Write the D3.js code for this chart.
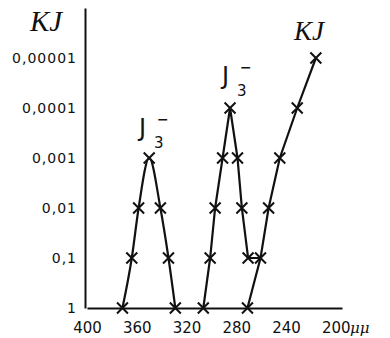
<!DOCTYPE html>
<html>
<head>
<meta charset="utf-8">
<script src="https://cdn.jsdelivr.net/npm/d3@7"></script>
<style>
  body { margin: 0; background: #fff; }
  svg { display: block; }
</style>
</head>
<body>
<div class="chart"></div>
<script>
// wavelength (μμ) and relative value for each band
const band1Wl = [371.5, 364, 358.5, 350, 341, 334.5, 329];
const band1Val = [1, 0.1, 0.01, 0.001, 0.01, 0.1, 1];
const band2Wl = [306.5, 301, 297, 291, 285, 279, 275.5, 270.5];
const band2Val = [1, 0.1, 0.01, 0.001, 0.0001, 0.001, 0.01, 0.1];
const kjWl = [271, 260.5, 254, 245, 231, 216];
const kjVal = [1, 0.1, 0.01, 0.001, 0.0001, 0.00001];

const xTicks = [400, 360, 320, 280, 240, 200];
const yTicks = [1, 0.1, 0.01, 0.001, 0.0001, 0.00001];
const yTickLabels = ['1', '0,1', '0,01', '0,001', '0,0001', '0,00001'];

const width = 390, height = 338;
const ink = '#111';

const svg = d3.select('.chart').append('svg')
  .attr('width', width)
  .attr('height', height)
  .style('background-color', 'white');

const xScale = d3.scaleLinear().domain([400, 195]).range([87, 342]);
const yScale = d3.scaleLog().domain([1, 1e-6]).range([308, 8]);

// x axis
const xAxis = svg.append('g')
  .attr('transform', 'translate(0,308)')
  .call(d3.axisBottom(xScale).tickValues(xTicks).tickSize(0).tickPadding(14)
    .tickFormat(d3.format('d')));
xAxis.select('.domain').attr('stroke', ink).attr('stroke-width', 2);
xAxis.selectAll('text')
  .attr('fill', ink)
  .style('font-family', '"DejaVu Sans", sans-serif')
  .style('font-size', '15px');

svg.append('text')
  .attr('x', 350).attr('y', 333)
  .attr('fill', ink)
  .style('font-family', '"DejaVu Serif", serif')
  .style('font-style', 'italic')
  .style('font-size', '15px')
  .text('μμ');

// y axis
const yAxis = svg.append('g')
  .attr('transform', 'translate(85,0)')
  .call(d3.axisLeft(yScale).tickValues(yTicks).tickSize(0).tickPadding(8)
    .tickFormat((d, i) => yTickLabels[i]));
yAxis.select('.domain').attr('stroke', ink).attr('stroke-width', 2);
yAxis.selectAll('text')
  .attr('fill', ink)
  .style('font-family', '"DejaVu Sans", sans-serif')
  .style('font-size', '14px')
  .style('letter-spacing', '1px');

svg.append('text')
  .attr('x', 30).attr('y', 31)
  .attr('fill', ink)
  .style('font-family', '"Liberation Serif", serif')
  .style('font-style', 'italic')
  .style('font-size', '29px')
  .text('KJ');

// curves
const toPts = (wl, val) => wl.map((w, i) => [xScale(w), yScale(val[i])]);
const pts1 = toPts(band1Wl, band1Val);
const pts2 = toPts(band2Wl, band2Val);
const pts3 = toPts(kjWl, kjVal);

const line = d3.line();
const smooth = d3.line().curve(d3.curveMonotoneX);

svg.append('path')
  .attr('d', smooth(pts1))
  .attr('fill', 'none').attr('stroke', ink).attr('stroke-width', 2.2);

// second band runs into the KJ curve at its 0,1 point
svg.append('path')
  .attr('d', line(pts2.concat([pts3[1]])))
  .attr('fill', 'none').attr('stroke', ink).attr('stroke-width', 2.2);

svg.append('path')
  .attr('d', line(pts3))
  .attr('fill', 'none').attr('stroke', ink).attr('stroke-width', 2.2);

// cross markers
const cross = d3.symbol().type(d3.symbolX).size(80);
svg.append('g').selectAll('path')
  .data(pts1.concat(pts2, pts3))
  .join('path')
  .attr('transform', d => `translate(${d[0]},${d[1]})`)
  .attr('d', cross)
  .attr('fill', 'none')
  .attr('stroke', ink)
  .attr('stroke-width', 2);

// band labels
function bandLabel(x, y) {
  const g = svg.append('g').attr('fill', ink)
    .style('font-family', '"DejaVu Sans", sans-serif');
  g.append('text').attr('x', x).attr('y', y)
    .style('font-size', '24px').text('J');
  g.append('text').attr('x', x + 15).attr('y', y + 12)
    .style('font-size', '15px').text('3');
  g.append('text').attr('x', x + 18).attr('y', y - 12)
    .style('font-size', '14px').style('font-weight', 'bold').text('−');
}
bandLabel(139, 136);
bandLabel(222, 84);

svg.append('text')
  .attr('x', 294).attr('y', 40)
  .attr('fill', ink)
  .style('font-family', '"Liberation Serif", serif')
  .style('font-style', 'italic')
  .style('font-size', '27px')
  .text('KJ');
</script>
</body>
</html>
